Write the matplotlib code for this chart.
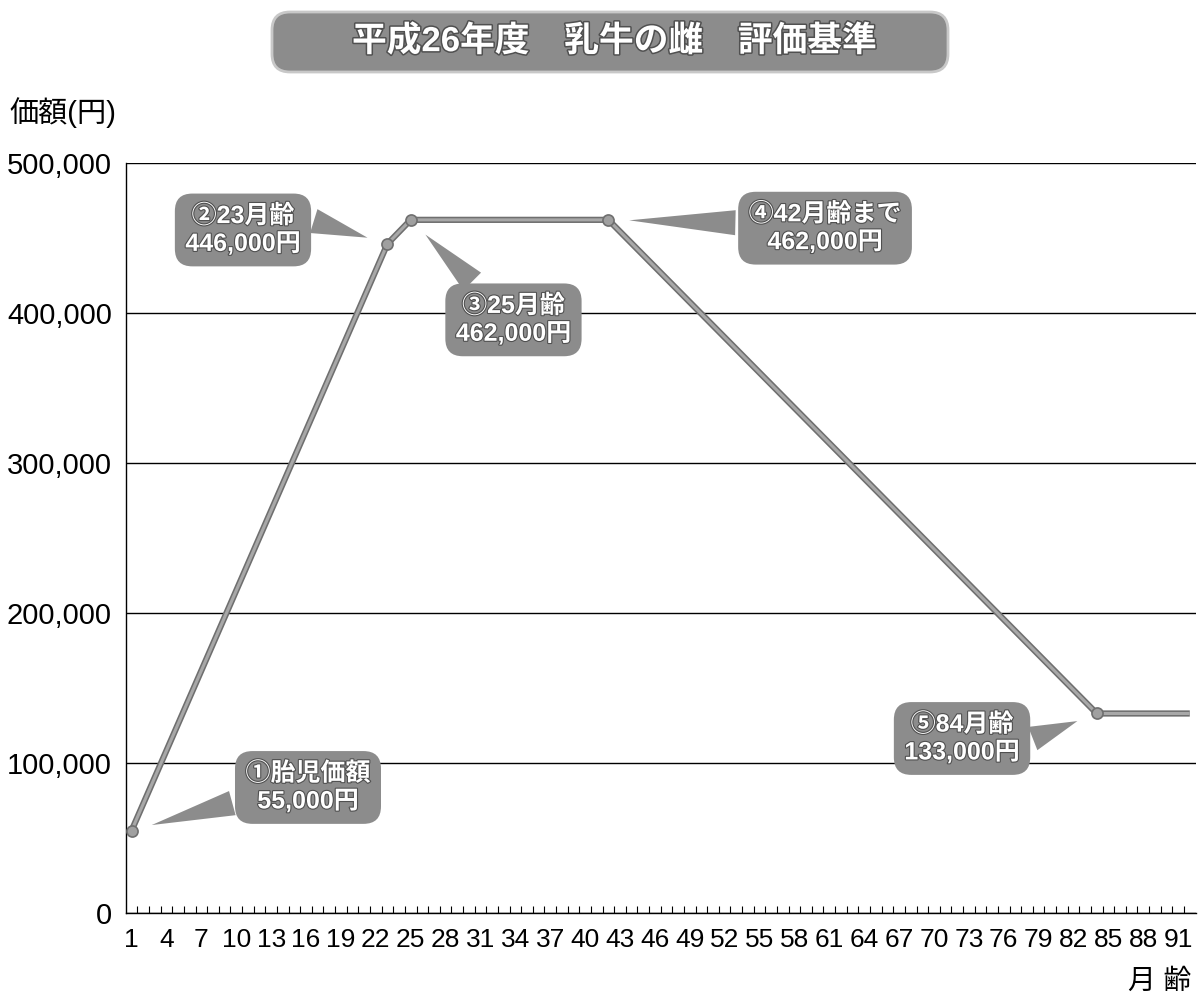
import matplotlib
matplotlib.use('Agg')
import matplotlib.pyplot as plt
import matplotlib.patheffects as pe
from matplotlib.patches import FancyBboxPatch
import numpy as np

# data
months = [1, 23, 25, 42, 84, 92]
prices = [55000, 446000, 462000, 462000, 133000, 133000]
marked = 5  # points with a marker (the last one only extends the line)
labels = ['①胎児価額\n55,000円', '②23月齢\n446,000円', '③25月齢\n462,000円',
          '④42月齢まで\n462,000円', '⑤84月齢\n133,000円']
offsets = [(127, 31), (-104, 10), (74, -72), (156, -6), (-97, -18)]
relpos = [(0.05, 0.3), (1.0, 0.75), (0.25, 1.0), (0.0, 0.6), (1.0, 0.4)]
yticks = [0, 100000, 200000, 300000, 400000, 500000]
xticks = list(range(1, 92, 3))

fam = ['Liberation Sans', 'Noto Sans CJK JP']
plt.rcParams['font.family'] = fam

gray = '#8c8c8c'
fig = plt.figure(figsize=(11.98, 10.07), dpi=100)
ax = fig.add_axes([0.105, 0.0933, 0.893, 0.745])

# line and points
ax.plot(months, prices, color='#6f6f6f', lw=4.5, solid_capstyle='butt', zorder=3)
ax.plot(months, prices, color='#a8a8a8', lw=2.2, solid_capstyle='butt', zorder=4)
ax.plot(months[:marked], prices[:marked], 'o', ms=8, mfc='#a0a0a0', mec='#6f6f6f',
        mew=1.2, zorder=5)

ax.set_xlim(0.5, 92.5)
ax.set_ylim(0, 500000)
ax.set_yticks(yticks)
ax.set_yticklabels([f'{v:,}' for v in yticks], fontsize=21)
ax.set_xticks(xticks)
ax.set_xticklabels([str(v) for v in xticks], fontsize=19)
ax.set_xticks(np.arange(1.5, 92.5, 1), minor=True)
ax.tick_params(axis='y', length=0, pad=10)
ax.tick_params(axis='x', which='major', length=0, pad=11)
ax.tick_params(axis='x', which='minor', direction='in', length=5, width=0.8)

ax.grid(axis='y', color='black', lw=1)
ax.set_axisbelow(True)
for s in ['top', 'right']:
    ax.spines[s].set_visible(False)
ax.spines['left'].set_linewidth(1)
ax.spines['bottom'].set_linewidth(1)

# callouts
for m, v, lab, off, rp in zip(months[:marked], prices[:marked], labels, offsets, relpos):
    ax.annotate(lab, xy=(m, v), xytext=off, textcoords='offset points',
                ha='center', va='center', fontsize=18, color='white',
                fontweight='bold', linespacing=1.2,
                path_effects=[pe.withStroke(linewidth=1.6, foreground='#505050')],
                bbox=dict(boxstyle='round,pad=0.42,rounding_size=0.7', fc=gray, ec='none'),
                arrowprops=dict(arrowstyle='wedge,tail_width=1.0', fc=gray, ec='none',
                                shrinkB=15, relpos=rp),
                zorder=6)

# title
fig.add_artist(FancyBboxPatch((2.72, 9.35), 6.76, 0.60,
                              boxstyle='round,pad=0,rounding_size=0.18',
                              transform=fig.dpi_scale_trans,
                              fc=gray, ec='#c8c8c8', lw=2))
fig.text(0.513, 0.959, '平成26年度　乳牛の雌　評価基準', ha='center', va='center',
         fontsize=25, color='white', fontweight='bold',
         path_effects=[pe.withStroke(linewidth=2.2, foreground='#505050')])

fig.text(0.008, 0.888, '価額(円)', ha='left', va='center', fontsize=21)
fig.text(0.994, 0.025, '月 齢', ha='right', va='center', fontsize=20)

fig.savefig('out.png', dpi=100)
